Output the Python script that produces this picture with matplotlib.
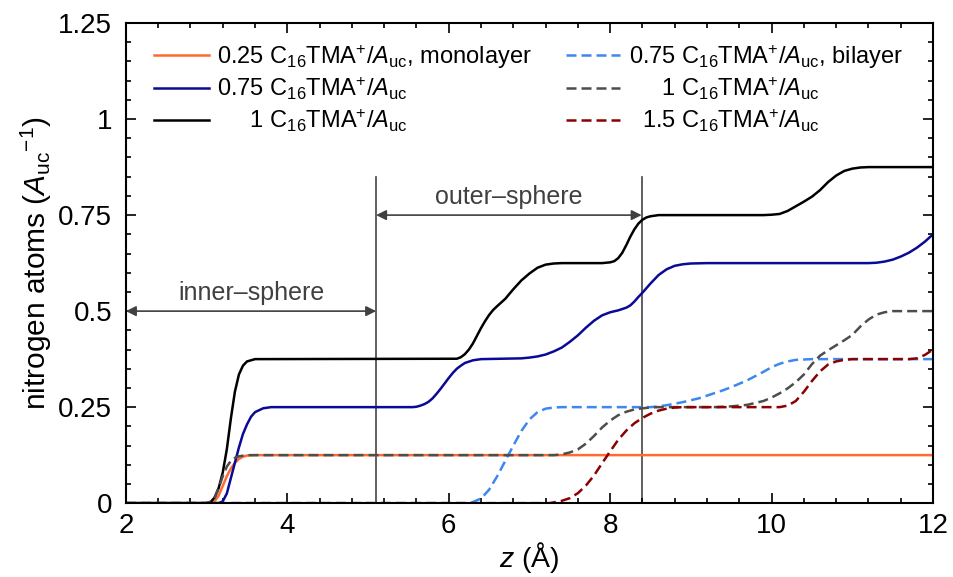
import matplotlib
matplotlib.use("Agg")
import matplotlib.pyplot as plt
from matplotlib.ticker import MultipleLocator

plt.rcParams["font.family"] = ["Liberation Sans", "DejaVu Sans"]
plt.rcParams["mathtext.fontset"] = "custom"
plt.rcParams["mathtext.rm"] = "Liberation Sans"
plt.rcParams["mathtext.it"] = "Liberation Sans:italic"

# cumulative number of nitrogen atoms vs distance from the surface
# solid lines: monolayer / single-layer loadings
c025_x = [2.0, 3.0, 3.1, 3.15, 3.2, 3.25, 3.3, 3.35, 3.4, 3.45, 3.5, 3.6, 12.0]
c025_y = [0, 0, 0.005, 0.02, 0.045, 0.07, 0.09, 0.105, 0.115, 0.121, 0.124, 0.125, 0.125]

c075_x = [2.0, 3.15, 3.2, 3.25, 3.3, 3.35, 3.4, 3.45, 3.5, 3.55, 3.6, 3.7, 3.8,
          5.55, 5.6, 5.65, 5.7, 5.75, 5.8, 5.85, 5.9, 5.95, 6.0, 6.05, 6.1, 6.15,
          6.2, 6.3, 6.4, 6.9, 7.0, 7.1, 7.2, 7.3, 7.4, 7.5, 7.6, 7.7, 7.8, 7.9,
          8.0, 8.1, 8.2, 8.25, 8.3, 8.35, 8.4, 8.5, 8.6, 8.7, 8.8, 8.9, 9.0, 9.2,
          11.2, 11.3, 11.4, 11.5, 11.6, 11.7, 11.8, 11.9, 12.0]
c075_y = [0, 0, 0.005, 0.025, 0.065, 0.105, 0.145, 0.18, 0.205, 0.225, 0.237, 0.247, 0.25,
          0.25, 0.251, 0.254, 0.258, 0.264, 0.273, 0.285, 0.298, 0.312, 0.326, 0.339, 0.35, 0.358,
          0.365, 0.372, 0.375, 0.377, 0.379, 0.382, 0.387, 0.395, 0.405, 0.42, 0.437, 0.457, 0.475, 0.489,
          0.497, 0.502, 0.509, 0.515, 0.525, 0.537, 0.548, 0.572, 0.594, 0.609, 0.618, 0.622, 0.624, 0.625,
          0.625, 0.626, 0.629, 0.634, 0.642, 0.652, 0.665, 0.681, 0.70]

c100_x = [2.0, 3.0, 3.05, 3.1, 3.15, 3.2, 3.25, 3.3, 3.35, 3.4, 3.45, 3.5, 3.6,
          6.1, 6.15, 6.2, 6.25, 6.3, 6.35, 6.4, 6.45, 6.5, 6.55, 6.6, 6.7, 6.8,
          6.9, 7.0, 7.1, 7.2, 7.3, 7.4, 7.9, 8.0, 8.05, 8.1, 8.15, 8.2, 8.25, 8.3,
          8.35, 8.4, 8.45, 8.5, 8.6, 9.9, 10.0, 10.1, 10.2, 10.3, 10.4, 10.5, 10.6,
          10.7, 10.8, 10.9, 11.0, 11.1, 11.2, 12.0]
c100_y = [0, 0, 0.003, 0.015, 0.04, 0.08, 0.14, 0.22, 0.29, 0.335, 0.358, 0.369, 0.375,
          0.376, 0.38, 0.388, 0.40, 0.416, 0.436, 0.456, 0.474, 0.49, 0.503, 0.513, 0.532, 0.557,
          0.58, 0.598, 0.613, 0.621, 0.624, 0.625, 0.625, 0.627, 0.63, 0.638, 0.652, 0.672, 0.694, 0.713,
          0.728, 0.738, 0.744, 0.747, 0.75, 0.75, 0.751, 0.753, 0.761, 0.773, 0.785, 0.798, 0.815,
          0.836, 0.853, 0.865, 0.871, 0.874, 0.875, 0.875]

# dashed lines: bilayer loadings
b075_x = [2.0, 6.25, 6.3, 6.4, 6.5, 6.6, 6.7, 6.8, 6.9, 7.0, 7.1, 7.2, 7.3, 7.4,
          8.5, 8.6, 8.7, 8.8, 8.9, 9.0, 9.1, 9.2, 9.3, 9.4, 9.5, 9.6, 9.7, 9.8,
          9.9, 10.0, 10.1, 10.2, 10.3, 10.4, 10.5, 12.0]
b075_y = [0, 0, 0.003, 0.012, 0.035, 0.07, 0.11, 0.15, 0.188, 0.218, 0.237, 0.246, 0.249, 0.25,
          0.25, 0.252, 0.255, 0.259, 0.263, 0.268, 0.273, 0.28, 0.287, 0.294, 0.302, 0.311, 0.32, 0.331,
          0.342, 0.354, 0.363, 0.369, 0.373, 0.374, 0.375, 0.375]

b100_x = [2.0, 3.0, 3.05, 3.1, 3.15, 3.2, 3.25, 3.3, 3.35, 3.4, 3.5, 7.3, 7.4, 7.5,
          7.6, 7.7, 7.8, 7.9, 8.0, 8.1, 8.2, 8.3, 8.4, 8.5, 8.6, 9.3, 9.5, 9.7, 9.9,
          10.0, 10.1, 10.2, 10.3, 10.4, 10.5, 10.6, 10.7, 10.8, 10.9, 11.0, 11.1,
          11.2, 11.3, 11.4, 11.5, 12.0]
b100_y = [0, 0, 0.004, 0.015, 0.04, 0.07, 0.095, 0.11, 0.118, 0.122, 0.125, 0.125, 0.127, 0.132,
          0.14, 0.155, 0.175, 0.197, 0.215, 0.229, 0.238, 0.244, 0.247, 0.249, 0.25, 0.25, 0.252, 0.256, 0.266,
          0.275, 0.286, 0.299, 0.315, 0.335, 0.362, 0.384, 0.398, 0.411, 0.424, 0.438, 0.46,
          0.478, 0.491, 0.497, 0.5, 0.5]

b150_x = [2.0, 7.25, 7.3, 7.4, 7.5, 7.6, 7.7, 7.8, 7.9, 8.0, 8.1, 8.2, 8.3, 8.4,
          8.5, 8.6, 8.7, 8.8, 8.9, 10.1, 10.2, 10.3, 10.4, 10.5, 10.6, 10.7, 10.8,
          10.9, 11.0, 11.7, 11.8, 11.9, 12.0]
b150_y = [0, 0, 0.002, 0.006, 0.013, 0.026, 0.046, 0.072, 0.104, 0.135, 0.165, 0.189, 0.208, 0.222,
          0.233, 0.241, 0.246, 0.249, 0.25, 0.25, 0.254, 0.266, 0.29, 0.318, 0.343, 0.361, 0.369,
          0.373, 0.375, 0.375, 0.377, 0.386, 0.40]

# borders of the inner- and outer-sphere regions
inner_edge = 5.1
outer_edge = 8.39

unit = r"C$_{16}$TMA$^{+}$/$A_{\mathrm{uc}}$"
labels = [
    "0.25 " + unit + ", monolayer",
    "0.75 " + unit,
    r"$\hspace{1.67}$1 " + unit,
    "0.75 " + unit + ", bilayer",
    r"$\hspace{1.67}$1 " + unit,
    r"$\hspace{0.67}$1.5 " + unit,
]

fig = plt.figure(figsize=(9.54, 5.77), dpi=100)
ax = fig.add_axes([0.132, 0.128, 0.846, 0.832])

lw = 1.8
l1, = ax.plot(c025_x, c025_y, color="#ff6a30", lw=lw)
l2, = ax.plot(c075_x, c075_y, color="#0a0a96", lw=lw)
l3, = ax.plot(c100_x, c100_y, color="black", lw=lw)
l4, = ax.plot(b075_x, b075_y, color="#3d87ee", lw=lw, dashes=(4, 2))
l5, = ax.plot(b100_x, b100_y, color="#4d4d4d", lw=lw, dashes=(4, 2))
l6, = ax.plot(b150_x, b150_y, color="#8b0000", lw=lw, dashes=(4, 2))

ax.plot([inner_edge, inner_edge], [0, 0.85], color="#444444", lw=1.2, zorder=1)
ax.plot([outer_edge, outer_edge], [0, 0.85], color="#444444", lw=1.2, zorder=1)

arrow = dict(arrowstyle="<|-|>", color="#404040", lw=1.2, mutation_scale=15,
             shrinkA=0, shrinkB=0)
ax.annotate("", xy=(2.0, 0.5), xytext=(inner_edge, 0.5), arrowprops=arrow)
ax.annotate("", xy=(inner_edge, 0.75), xytext=(outer_edge, 0.75), arrowprops=arrow)
ax.text((2.0 + inner_edge) / 2, 0.515, "inner\u2013sphere", ha="center", va="bottom",
        fontsize=18, color="#404040")
ax.text((inner_edge + outer_edge) / 2, 0.765, "outer\u2013sphere", ha="center", va="bottom",
        fontsize=18, color="#404040")

ax.set_xlim(2, 12)
ax.set_ylim(0, 1.25)
ax.xaxis.set_major_locator(MultipleLocator(2))
ax.xaxis.set_minor_locator(MultipleLocator(0.4))
ax.yaxis.set_major_locator(MultipleLocator(0.25))
ax.yaxis.set_minor_locator(MultipleLocator(0.05))
ax.set_yticks([0, 0.25, 0.5, 0.75, 1, 1.25])
ax.set_yticklabels(["0", "0.25", "0.5", "0.75", "1", "1.25"])
ax.tick_params(which="both", direction="in", top=True, right=True, labelsize=20,
               width=1.2)
ax.tick_params(which="major", length=7)
ax.tick_params(axis="x", which="major", pad=7)
ax.tick_params(axis="y", which="major", pad=10)
ax.tick_params(which="minor", length=3.5)
for s in ax.spines.values():
    s.set_linewidth(1.5)

ax.set_xlabel(r"$z$ (Å)", fontsize=20.5, labelpad=1)
ax.set_ylabel(r"nitrogen atoms ($A_{\mathrm{uc}}{}^{-1}$)", fontsize=21.5, labelpad=3)

ax.legend([l1, l2, l3, l4, l5, l6], labels, ncol=2, frameon=False, fontsize=17,
          loc="upper left", bbox_to_anchor=(0.006, 1.008), handlelength=2.3,
          handletextpad=0.35, columnspacing=1.45, labelspacing=0.2,
          borderaxespad=0.6)

fig.savefig("out.png", dpi=100)
